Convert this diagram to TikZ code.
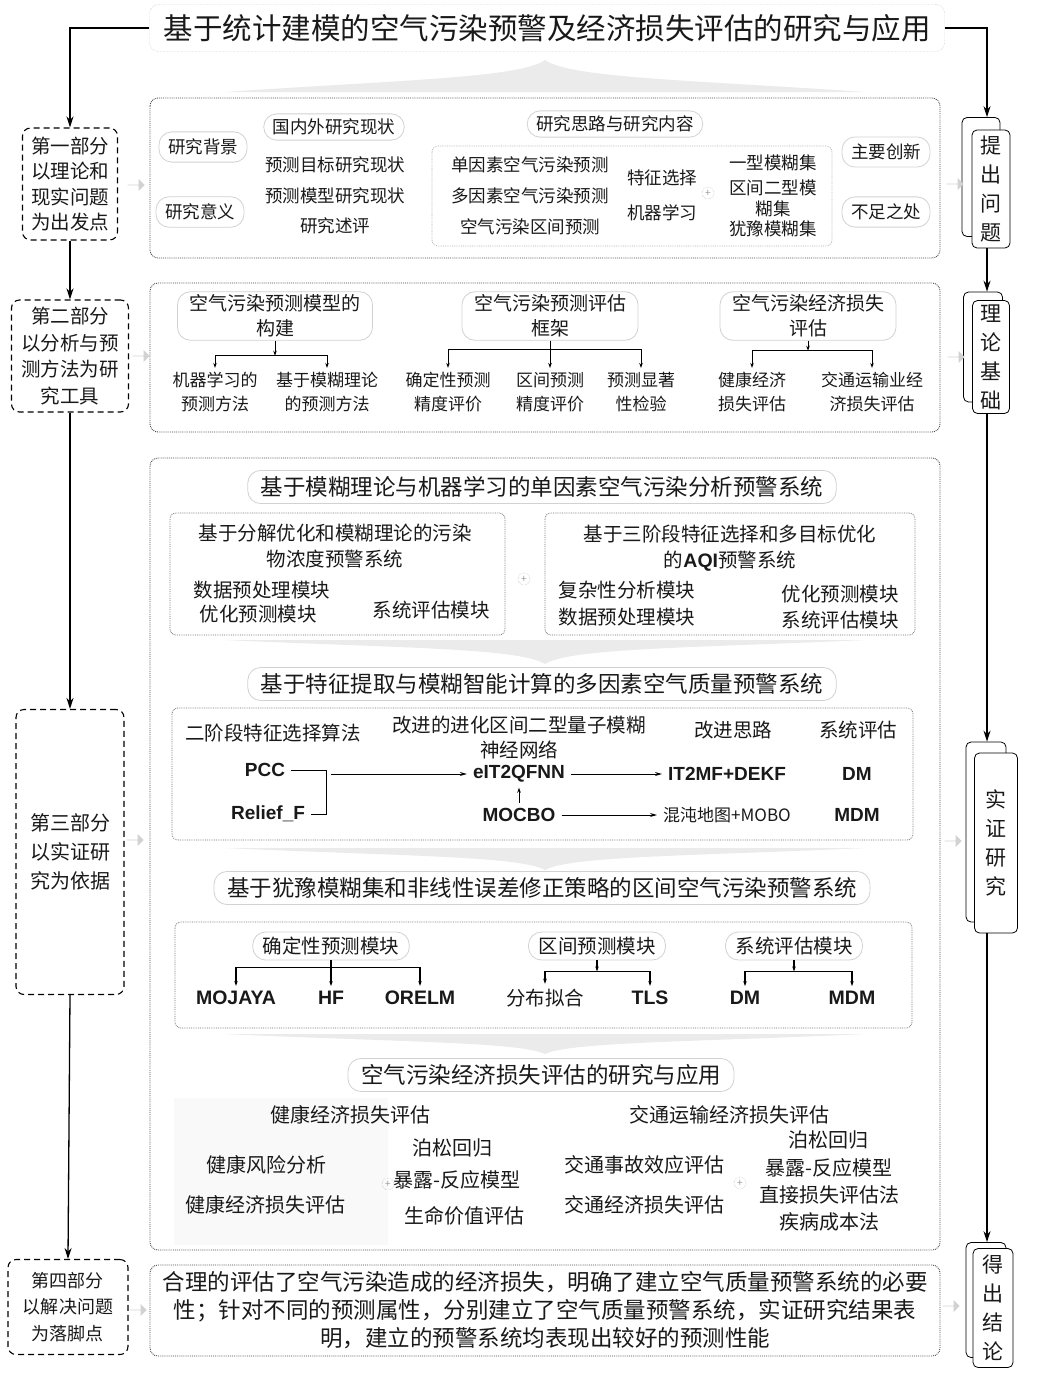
\documentclass[tikz,border=0pt]{standalone}
\usepackage{fontspec}
\setmainfont{Noto Sans CJK SC}
\newfontfamily\latinfont{Liberation Sans}
\usetikzlibrary{arrows.meta,shapes.arrows,calc}

\begin{document}
\begin{tikzpicture}[x=1pt, y=-1pt,
    every node/.style={inner sep=0pt, text=black!90},
    partbox/.style={draw, line width=1.1pt, dash pattern=on 6pt off 4pt, rounded corners=8pt, align=center},
    stagebox/.style={draw, line width=0.8pt, fill=white, rounded corners=5pt, align=center},
    panel/.style={draw=black!70, line width=0.9pt, densely dotted, rounded corners=8pt},
    subpanel/.style={draw=black!55, line width=0.8pt, densely dotted, rounded corners=6pt},
    pill/.style={draw=gray!35, line width=0.8pt, fill=white, rounded corners=13pt, inner xsep=9pt, inner ysep=7pt},
    spine/.style={draw, line width=1.3pt, -{Stealth[length=11pt, width=7pt]}},
    twig/.style={line width=0.9pt, -{Stealth[length=5pt, width=3.5pt]}},
    flowline/.style={line width=0.9pt, -{Stealth[length=7pt, width=4pt]}},
    hint/.style={single arrow, fill=gray!35, minimum height=17pt, minimum width=12pt, single arrow head extend=3pt},
    joint/.style={circle, draw=gray!70, densely dotted, minimum size=12pt, font=\fontsize{10}{10}\selectfont, text=gray!80},
    fan/.style={fill=gray!16},
    tag/.style={font=\latinfont\bfseries\fontsize{19}{22}\selectfont, inner xsep=6pt, inner ysep=5pt},
    ptxt/.style={font=\fontsize{19.5}{25.5}\selectfont},
    stxt/.style={font=\fontsize{21}{29}\selectfont},
    atxt/.style={font=\fontsize{17.5}{24}\selectfont, align=center},
    btxt/.style={font=\fontsize{17}{24}\selectfont, align=center, inner ysep=4pt},
    ctxt/.style={font=\fontsize{19.5}{26.5}\selectfont, align=center},
    htxt/.style={font=\fontsize{22.5}{26}\selectfont, inner xsep=13pt, inner ysep=6pt},
  ]
    \path[use as bounding box, fill=white] (0,0) rectangle (1038,1389);

    % Title
    \node[draw=gray!60, densely dotted, rounded corners=9pt, minimum width=795, minimum height=47, font=\fontsize{29.5}{32}\selectfont] (title) at (547,28) {基于统计建模的空气污染预警及经济损失评估的研究与应用};
    \fill[fan] (225,92) .. controls (400,80) and (520,78) .. (545,60) .. controls (570,78) and (690,80) .. (865,92) -- cycle;

    % Left column (parts)
    \node[partbox, ptxt, minimum width=95, minimum height=112] (part1) at (70,184) {第一部分\\以理论和\\现实问题\\为出发点};
    \node[partbox, ptxt, minimum width=117, minimum height=112, font=\fontsize{19.5}{26.5}\selectfont] (part2) at (70,356) {第二部分\\以分析与预\\测方法为研\\究工具};
    \node[partbox, ptxt, minimum width=108, minimum height=285, font=\fontsize{20}{29}\selectfont] (part3) at (70,852) {第三部分\\以实证研\\究为依据};
    \node[partbox, ptxt, minimum width=120, minimum height=95, font=\fontsize{18}{26.5}\selectfont] (part4) at (68,1307) {第四部分\\以解决问题\\为落脚点};

    % Right column (stages)
    \coordinate (rs) at (987,0);
    \node[stagebox, minimum width=38, minimum height=119] (s1back) at (981,177) {};
    \node[stagebox, stxt, minimum width=38, minimum height=118] (s1) at (991,189) {提\\出\\问\\题};
    \node[stagebox, minimum width=39, minimum height=110] (s2back) at (983,347) {};
    \node[stagebox, stxt, minimum width=37, minimum height=113] (s2) at (991,357) {理\\论\\基\\础};
    \node[stagebox, minimum width=40, minimum height=180] (s3back) at (986,832) {};
    \node[stagebox, stxt, minimum width=43, minimum height=180] (s3) at (996,843) {实\\证\\研\\究};
    \node[stagebox, minimum width=40, minimum height=115] (s4back) at (986,1300) {};
    \node[stagebox, stxt, minimum width=40, minimum height=119] (s4) at (993,1308) {得\\出\\结\\论};

    % Spines
    \draw[spine] (title.west) -| (part1.north);
    \draw[spine] (part1.south) -- (part2.north);
    \draw[spine] (part2.south) -- (part3.north);
    \draw[spine] (part3.south) -- (part4.north);
    \draw[spine] (title.east) -| (s1back.north -| rs);
    \draw[spine] (s1.south -| rs) -- (s2back.north -| rs);
    \draw[spine] (s2.south -| rs) -- (s3back.north -| rs);
    \draw[spine] (s3.south -| rs) -- (s4back.north -| rs);

    % Gray hint arrows
    \node[hint] (h1) at (136,185) {};
    \node[hint] (h2) at (141,356) {};
    \node[hint] (h3) at (135,840) {};
    \node[hint] (h4) at (138,1310) {};
    \node[hint] (h5) at (955,184) {};
    \node[hint] (h6) at (956,357) {};
    \node[hint] (h7) at (953,841) {};
    \node[hint] (h8) at (951,1306) {};

    % Panel A: problem
    \draw[panel] (150,98) rectangle (940,258);
    \node[pill, atxt] (bg) at (203,147) {研究背景};
    \node[pill, atxt] (sig) at (200,212) {研究意义};
    \node[pill, atxt, inner ysep=5pt] (status) at (334,127) {国内外研究现状};
    \node[atxt] (st1) at (335,165) {预测目标研究现状};
    \node[atxt] (st2) at (335,196) {预测模型研究现状};
    \node[atxt] (st3) at (335,226) {研究述评};
    \node[pill, atxt, inner ysep=5pt] (idea) at (615,124) {研究思路与研究内容};
    \draw[subpanel, draw=black!30] (432,146) rectangle (832,246);
    \node[atxt] (c1) at (530,165) {单因素空气污染预测};
    \node[atxt] (c2) at (530,196) {多因素空气污染预测};
    \node[atxt] (c3) at (530,227) {空气污染区间预测};
    \node[atxt] (m1) at (662,178) {特征选择};
    \node[atxt] (m2) at (662,213) {机器学习};
    \node[joint] (jA) at (708,193) {+};
    \node[atxt] (f1) at (773,163) {一型模糊集};
    \node[atxt, font=\fontsize{17.5}{21}\selectfont] (f2) at (773,198) {区间二型模\\糊集};
    \node[atxt] (f3) at (773,229) {犹豫模糊集};
    \node[pill, atxt] (innov) at (886,152) {主要创新};
    \node[pill, atxt] (lack) at (886,212) {不足之处};

    % Panel B: theory
    \draw[panel] (150,283) rectangle (940,432);
    \node[pill, font=\fontsize{19}{25}\selectfont, align=center, inner xsep=12pt, inner ysep=3pt] (pB1) at (275,316) {空气污染预测模型的\\构建};
    \node[pill, font=\fontsize{19}{25}\selectfont, align=center, inner xsep=12pt, inner ysep=3pt] (pB2) at (550,316) {空气污染预测评估\\框架};
    \node[pill, font=\fontsize{19}{25}\selectfont, align=center, inner xsep=12pt, inner ysep=3pt] (pB3) at (808,316) {空气污染经济损失\\评估};
    \node[btxt] (cB11) at (215,392) {机器学习的\\预测方法};
    \node[btxt] (cB12) at (327,392) {基于模糊理论\\的预测方法};
    \node[btxt] (cB21) at (448,392) {确定性预测\\精度评价};
    \node[btxt] (cB22) at (550,392) {区间预测\\精度评价};
    \node[btxt] (cB23) at (641,392) {预测显著\\性检验};
    \node[btxt] (cB31) at (752,392) {健康经济\\损失评估};
    \node[btxt] (cB32) at (872,392) {交通运输业经\\济损失评估};
    \coordinate (jB1) at ($(pB1.south)+(0,15)$);
    \draw[twig] (pB1.south) -- (jB1);
    \draw[twig] (jB1) -| (cB11.north);
    \draw[twig] (jB1) -| (cB12.north);
    \coordinate (jB2) at ($(pB2.south)+(0,9)$);
    \draw[twig] (pB2.south) -- (cB22.north);
    \draw[twig] (jB2) -| (cB21.north);
    \draw[twig] (jB2) -| (cB23.north);
    \coordinate (jB3) at ($(pB3.south)+(0,10)$);
    \draw[twig] (pB3.south) -- (jB3);
    \draw[twig] (jB3) -| (cB31.north);
    \draw[twig] (jB3) -| (cB32.north);

    % Panel C: empirical study
    \draw[panel] (150,458) rectangle (940,1250);

    % C1 single factor
    \node[pill, htxt] (hC1) at (542,487) {基于模糊理论与机器学习的单因素空气污染分析预警系统};
    \draw[subpanel] (170,513) rectangle (505,635);
    \node[ctxt] (sysA) at (335,546) {基于分解优化和模糊理论的污染\\物浓度预警系统};
    \node[ctxt] (mA1) at (262,590) {数据预处理模块};
    \node[ctxt] (mA2) at (258,614) {优化预测模块};
    \node[ctxt] (mA3) at (431,610) {系统评估模块};
    \node[joint] (jC1) at (524,579) {+};
    \draw[subpanel] (545,513) rectangle (915,635);
    \node[ctxt] (sysB) at (730,548) {基于三阶段特征选择和多目标优化\\的{\latinfont\bfseries AQI}预警系统};
    \node[ctxt] (mB1) at (627,590) {复杂性分析模块};
    \node[ctxt] (mB2) at (627,617) {数据预处理模块};
    \node[ctxt] (mB3) at (840,594) {优化预测模块};
    \node[ctxt] (mB4) at (840,620) {系统评估模块};
    \fill[fan] (225,640) .. controls (400,648) and (520,648) .. (545,664) .. controls (570,648) and (690,648) .. (865,640) -- cycle;

    % C2 multi factor
    \node[pill, htxt] (hC2) at (542,684) {基于特征提取与模糊智能计算的多因素空气质量预警系统};
    \draw[subpanel] (172,708) rectangle (913,840);
    \node[ctxt] (fsel) at (273,733) {二阶段特征选择算法};
    \node[ctxt, font=\fontsize{19.5}{25}\selectfont] (net) at (519,738) {改进的进化区间二型量子模糊\\神经网络};
    \node[ctxt] (idea2) at (733,730) {改进思路};
    \node[ctxt] (eval2) at (858,730) {系统评估};
    \node[tag] (pcc) at (265,770) {PCC};
    \node[tag] (relief) at (268,814) {Relief\_F};
    \node[tag] (eit) at (519,774) {eIT2QFNN};
    \node[tag] (mocbo) at (519,815) {MOCBO};
    \node[tag] (it2) at (727,774) {IT2MF+DEKF};
    \node[tag, font=\fontsize{17}{20}\selectfont] (chaos) at (727,815) {混沌地图+MOBO};
    \node[tag] (dm1) at (857,774) {DM};
    \node[tag] (mdm1) at (857,815) {MDM};
    \coordinate (jpc) at (326,770);
    \draw[line width=0.9pt] (pcc.east) -- (jpc) |- (relief.east);
    \draw[flowline] ($(jpc)+(5,4)$) -- (eit.west);
    \draw[flowline] (eit.east) -- (it2.west);
    \draw[flowline] (mocbo.east) -- (chaos.west);
    \draw[twig] (mocbo.north) -- (eit.south);
    \fill[fan] (225,848) .. controls (400,856) and (520,856) .. (545,870) .. controls (570,856) and (690,856) .. (865,848) -- cycle;

    % C3 interval
    \node[pill, htxt] (hC3) at (542,888) {基于犹豫模糊集和非线性误差修正策略的区间空气污染预警系统};
    \draw[subpanel] (175,922) rectangle (912,1028);
    \node[pill, ctxt, inner xsep=10pt, inner ysep=5pt] (pD1) at (331,946) {确定性预测模块};
    \node[pill, ctxt, inner xsep=10pt, inner ysep=5pt] (pD2) at (597,946) {区间预测模块};
    \node[pill, ctxt, inner xsep=10pt, inner ysep=5pt] (pD3) at (794,946) {系统评估模块};
    \node[tag, font=\latinfont\bfseries\fontsize{19.5}{22}\selectfont] (moj) at (236,998) {MOJAYA};
    \node[tag, font=\latinfont\bfseries\fontsize{19.5}{22}\selectfont] (hf) at (331,998) {HF};
    \node[tag, font=\latinfont\bfseries\fontsize{19.5}{22}\selectfont] (ore) at (420,998) {ORELM};
    \node[tag, font=\fontsize{19.5}{22}\selectfont] (fit) at (545,998) {分布拟合};
    \node[tag, font=\latinfont\bfseries\fontsize{19.5}{22}\selectfont] (tls) at (650,998) {TLS};
    \node[tag, font=\latinfont\bfseries\fontsize{19.5}{22}\selectfont] (dm2) at (745,998) {DM};
    \node[tag, font=\latinfont\bfseries\fontsize{19.5}{22}\selectfont] (mdm2) at (852,998) {MDM};
    \coordinate (jD1) at ($(pD1.south)+(0,7)$);
    \draw[twig, line width=1.1pt] (pD1.south) -- (hf.north);
    \draw[twig, line width=1.1pt] (jD1) -| (moj.north);
    \draw[twig, line width=1.1pt] (jD1) -| (ore.north);
    \coordinate (jD2) at ($(pD2.south)+(0,11)$);
    \draw[twig, line width=1.1pt] (pD2.south) -- (jD2);
    \draw[twig, line width=1.1pt] (jD2) -| (fit.north);
    \draw[twig, line width=1.1pt] (jD2) -| (tls.north);
    \coordinate (jD3) at ($(pD3.south)+(0,11)$);
    \draw[twig, line width=1.1pt] (pD3.south) -- (jD3);
    \draw[twig, line width=1.1pt] (jD3) -| (dm2.north);
    \draw[twig, line width=1.1pt] (jD3) -| (mdm2.north);
    \fill[fan] (225,1034) .. controls (400,1042) and (520,1042) .. (545,1054) .. controls (570,1042) and (690,1042) .. (865,1034) -- cycle;

    % C4 economic loss
    \node[pill, htxt] (hC4) at (541,1075) {空气污染经济损失评估的研究与应用};
    \fill[gray!5] (174,1098) rectangle (388,1245);
    \node[ctxt, font=\fontsize{20}{24}\selectfont] (hl) at (350,1115) {健康经济损失评估};
    \node[ctxt, font=\fontsize{20}{24}\selectfont] (hl1) at (266,1165) {健康风险分析};
    \node[ctxt, font=\fontsize{20}{24}\selectfont] (hl2) at (265,1205) {健康经济损失评估};
    \node[joint] (jH) at (388,1184) {+};
    \node[ctxt, font=\fontsize{20}{24}\selectfont] (hm1) at (452,1148) {泊松回归};
    \node[ctxt, font=\fontsize{20}{24}\selectfont] (hm2) at (457,1180) {暴露-反应模型};
    \node[ctxt, font=\fontsize{20}{24}\selectfont] (hm3) at (464,1216) {生命价值评估};
    \node[ctxt, font=\fontsize{20}{24}\selectfont] (tl) at (729,1115) {交通运输经济损失评估};
    \node[ctxt, font=\fontsize{20}{24}\selectfont] (tl1) at (644,1165) {交通事故效应评估};
    \node[ctxt, font=\fontsize{20}{24}\selectfont] (tl2) at (644,1205) {交通经济损失评估};
    \node[joint] (jT) at (740,1183) {+};
    \node[ctxt, font=\fontsize{20}{24}\selectfont] (tm1) at (828,1140) {泊松回归};
    \node[ctxt, font=\fontsize{20}{24}\selectfont] (tm2) at (829,1168) {暴露-反应模型};
    \node[ctxt, font=\fontsize{20}{24}\selectfont] (tm3) at (829,1195) {直接损失评估法};
    \node[ctxt, font=\fontsize{20}{24}\selectfont] (tm4) at (829,1222) {疾病成本法};

    % Panel D: conclusion
    \draw[panel] (150,1265) rectangle (940,1356);
    \node[font=\fontsize{22.5}{28}\selectfont, align=center] (concl) at (545,1310) {合理的评估了空气污染造成的经济损失，明确了建立空气质量预警系统的必要\\性；针对不同的预测属性，分别建立了空气质量预警系统，实证研究结果表\\明，建立的预警系统均表现出较好的预测性能};
\end{tikzpicture}
\end{document}
